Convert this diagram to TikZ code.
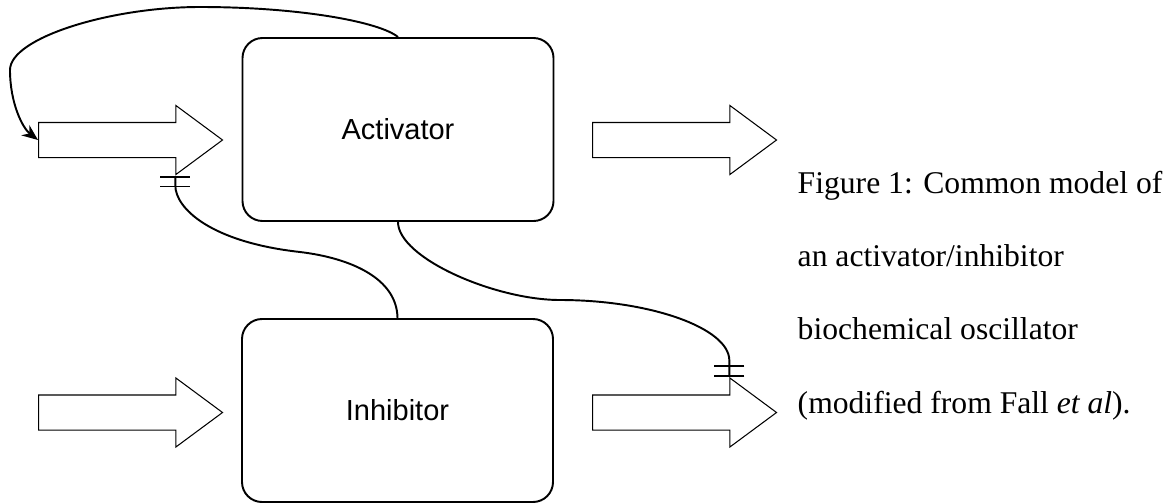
\documentclass[tikz,border=0pt]{standalone}
\usepackage{fontspec}
\setmainfont{Liberation Serif}
\newfontfamily\boxfont{Liberation Sans}
\usetikzlibrary{positioning, shapes.arrows, arrows.meta}

\tikzset{
  species/.style={rectangle, rounded corners=0.4cm, draw=black, line width=1.1pt,
    minimum width=6.22cm, minimum height=3.66cm, font=\boxfont\fontsize{16.5}{20}\selectfont},
  flow/.style={single arrow, draw=black, line width=0.6pt, anchor=tail,
    minimum width=1.36cm, minimum height=3.68cm, single arrow head extend=0.34cm,
    single arrow tip angle=73, inner xsep=0pt, inner ysep=0.34cm},
  link/.style={line width=1.1pt},
  block/.style={-{Bar[width=6mm,sep=1.6mm]Bar[width=6mm]}},
  caption/.style={anchor=base west, font=\fontsize{18}{22}\selectfont}
}

\begin{document}
\begin{tikzpicture}
\useasboundingbox (0,0) rectangle (23.38,10.06);

% Species
\node[species] (act) at (7.96,7.47) {Activator};
\node[species] (inh) at (7.95,1.85) {Inhibitor};

% Inflow and outflow
\node[flow] (inA) at (0.76,7.26) {};
\node[flow] (outA) at (11.84,7.26) {};
\node[flow] (inI) at (0.76,1.81) {};
\node[flow] (outI) at (11.84,1.81) {};

% Feedback of activator on its own inflow
\draw[link, -{Stealth[length=3.2mm,width=2.6mm]}] (act.north)
  .. controls (7.6,9.62) and (6.0,9.92) .. (4.0,9.92)
  .. controls (2.2,9.92) and (0.2,9.3) .. (0.2,8.66)
  .. controls (0.2,8.0) and (0.45,7.5) .. (inA.tail);

% Inhibitor blocks activator inflow
\draw[link, block] (inh.north)
  .. controls (7.94,4.5) and (7.0,4.9) .. (6.0,5.02)
  .. controls (4.2,5.22) and (inA.after tip |- 0,5.9) .. (inA.after tip |- 0,6.35)
  -- (inA.after tip);

% Activator blocks inhibitor outflow
\draw[link, block] (act.south)
  .. controls (7.96,4.9) and (9.9,4.06) .. (11.2,4.06)
  .. controls (13.0,4.06) and (outI.before tip |- 0,3.5) .. (outI.before tip |- 0,2.85)
  -- (outI.before tip);

% Caption
\node[caption] (cap1) at (15.83,6.20) {Figure 1: Common model of};
\node[caption] (cap2) at (15.83,4.74) {an activator/inhibitor};
\node[caption] (cap3) at (15.83,3.28) {biochemical oscillator};
\node[caption] (cap4) at (15.83,1.80) {(modified from Fall \textit{et al}).};

\end{tikzpicture}
\end{document}
